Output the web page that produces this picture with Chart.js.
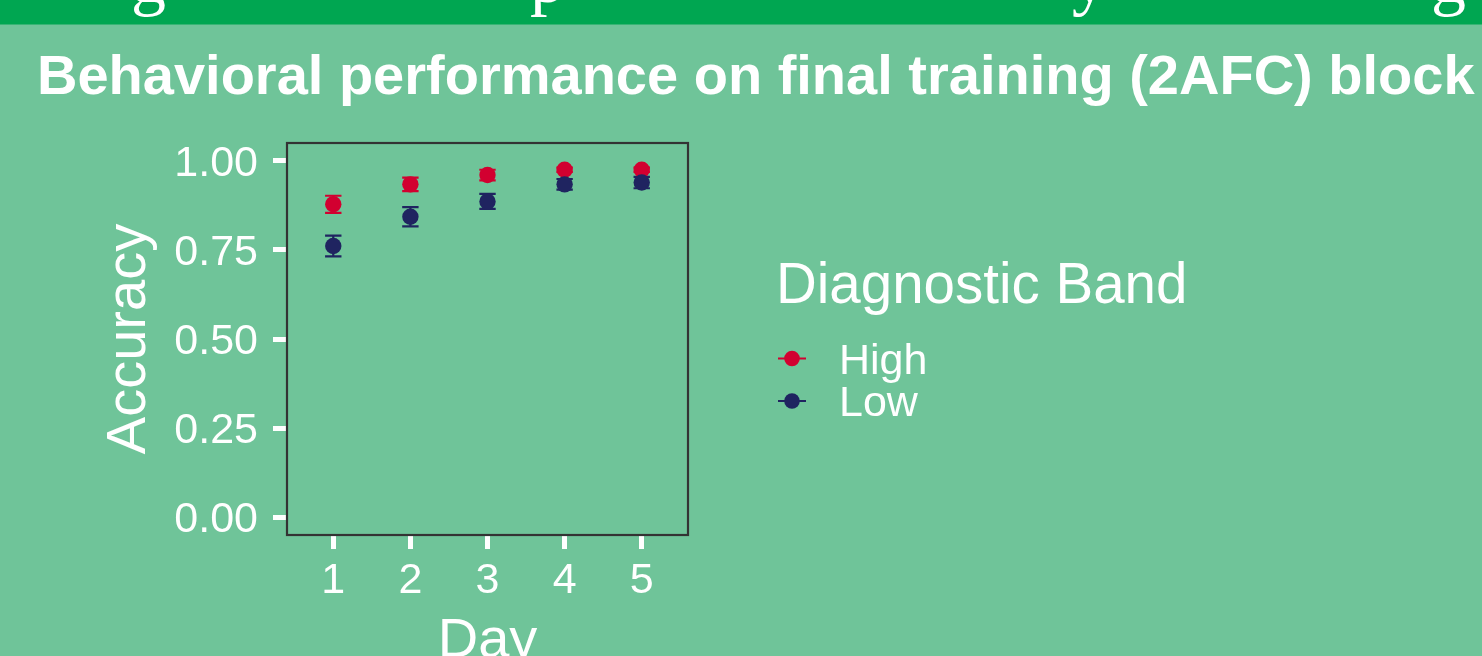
<!DOCTYPE html>
<html>
<head>
<meta charset="utf-8">
<title>Behavioral performance on final training (2AFC) block</title>
<script src="https://cdn.jsdelivr.net/npm/chart.js@4.4.1/dist/chart.umd.min.js"></script>
<style>
  html, body { margin: 0; padding: 0; background: #6FC499; overflow: hidden; }
  #wrap { position: relative; width: 1482px; height: 656px; overflow: hidden; }
  canvas { display: block; }
</style>
</head>
<body>
<div id="wrap"><canvas id="chart" width="1482" height="700"></canvas></div>
<script>
// Accuracy per training day, mean and standard error for each diagnostic band
const days = [1, 2, 3, 4, 5];
const dayLabels = ['1', '2', '3', '4', '5'];
const highMean = [0.878, 0.934, 0.960, 0.975, 0.975];
const highSE   = [0.024, 0.019, 0.015, 0.006, 0.006];
const lowMean  = [0.761, 0.843, 0.886, 0.934, 0.939];
const lowSE    = [0.029, 0.027, 0.021, 0.015, 0.016];
const yTickValues = [0, 0.25, 0.5, 0.75, 1];
const yTickLabels = ['0.00', '0.25', '0.50', '0.75', '1.00'];
const seriesNames = ['High', 'Low'];
const legendTitle = 'Diagnostic Band';
const chartTitle = 'Behavioral performance on final training (2AFC) block';
const bannerGlyphs = ['g', 'p', 'y', 'g'];

const RED = '#D20030';
const NAVY = '#1F2460';
const BG = '#6FC499';
const BANNER = '#00A651';
const SANS = "'Liberation Sans', Arial, Helvetica, sans-serif";
const SERIF = "'Liberation Serif', 'Times New Roman', serif";

Chart.defaults.font.family = SANS;
Chart.defaults.color = '#FFFFFF';

// Page background, the banner strip with its clipped lettering, and the title
const backdrop = {
  id: 'backdrop',
  beforeDraw(chart) {
    const ctx = chart.ctx;
    ctx.save();
    ctx.fillStyle = BG;
    ctx.fillRect(0, 0, chart.width, chart.height);
    ctx.fillStyle = BANNER;
    ctx.fillRect(0, 0, chart.width, 24.5);
    ctx.beginPath();
    ctx.rect(0, 0, chart.width, 24.5);
    ctx.clip();
    ctx.fillStyle = '#FFFFFF';
    ctx.font = '70px ' + SERIF;
    ctx.textBaseline = 'alphabetic';
    const gx = [131, 530, 1072, 1431];
    bannerGlyphs.forEach((g, i) => ctx.fillText(g, gx[i], 1.5));
    ctx.restore();

    ctx.save();
    ctx.fillStyle = '#FFFFFF';
    ctx.font = 'bold 56px ' + SANS;
    ctx.textBaseline = 'alphabetic';
    ctx.textAlign = 'left';
    ctx.fillText(chartTitle, 37, 94);
    ctx.restore();
  }
};

// Vertical error bars with caps, mean +/- SE, placed through the y scale
const errorBars = {
  id: 'errorBars',
  beforeDatasetsDraw(chart) {
    const ctx = chart.ctx;
    const ys = chart.scales.y;
    ctx.save();
    chart.data.datasets.forEach((ds, i) => {
      const meta = chart.getDatasetMeta(i);
      ctx.strokeStyle = ds.borderColor;
      ctx.lineWidth = 2.2;
      meta.data.forEach((pt, j) => {
        const v = ds.data[j].y;
        const e = ds.se[j];
        const y1 = ys.getPixelForValue(v + e);
        const y2 = ys.getPixelForValue(v - e);
        const half = 8.2;
        ctx.beginPath();
        ctx.moveTo(pt.x, y1); ctx.lineTo(pt.x, y2);
        ctx.moveTo(pt.x - half, y1); ctx.lineTo(pt.x + half, y1);
        ctx.moveTo(pt.x - half, y2); ctx.lineTo(pt.x + half, y2);
        ctx.stroke();
      });
    });
    ctx.restore();
  }
};

// Panel outline drawn over the plotted marks
const panelBorder = {
  id: 'panelBorder',
  afterDatasetsDraw(chart) {
    const {left, top, right, bottom} = chart.chartArea;
    const ctx = chart.ctx;
    ctx.save();
    ctx.strokeStyle = '#333333';
    ctx.lineWidth = 2.2;
    ctx.strokeRect(left, top, right - left, bottom - top);
    ctx.restore();
  }
};

// Legend with a point-range key for each band
const bandLegend = {
  id: 'bandLegend',
  afterDraw(chart) {
    const ctx = chart.ctx;
    ctx.save();
    ctx.fillStyle = '#FFFFFF';
    ctx.textAlign = 'left';
    ctx.textBaseline = 'alphabetic';
    ctx.font = '56.5px ' + SANS;
    ctx.fillText(legendTitle, 776, 303);
    const keyY = [358.5, 401];
    const textY = [374, 416];
    chart.data.datasets.forEach((ds, i) => {
      ctx.strokeStyle = ds.borderColor;
      ctx.lineWidth = 2;
      ctx.beginPath();
      ctx.moveTo(778, keyY[i]);
      ctx.lineTo(806, keyY[i]);
      ctx.stroke();
      ctx.fillStyle = ds.backgroundColor;
      ctx.beginPath();
      ctx.arc(792, keyY[i], 7.8, 0, Math.PI * 2);
      ctx.fill();
      ctx.fillStyle = '#FFFFFF';
      ctx.font = '43px ' + SANS;
      ctx.fillText(ds.label, 839, textY[i]);
    });
    ctx.restore();
  }
};

const toPoints = (means) => days.map((d, i) => ({x: d, y: means[i]}));

new Chart(document.getElementById('chart'), {
  type: 'scatter',
  data: {
    datasets: [
      {
        label: seriesNames[0],
        data: toPoints(highMean),
        se: highSE,
        backgroundColor: RED,
        borderColor: RED,
        pointRadius: 8.2,
        pointHoverRadius: 8.2,
        pointBorderWidth: 0,
        order: 2
      },
      {
        label: seriesNames[1],
        data: toPoints(lowMean),
        se: lowSE,
        backgroundColor: NAVY,
        borderColor: NAVY,
        pointRadius: 8.2,
        pointHoverRadius: 8.2,
        pointBorderWidth: 0,
        order: 1
      }
    ]
  },
  options: {
    responsive: false,
    animation: false,
    devicePixelRatio: 1,
    events: [],
    layout: { padding: { left: 0, top: 143, right: 794, bottom: 0 } },
    plugins: {
      legend: { display: false },
      tooltip: { enabled: false },
      title: { display: false }
    },
    scales: {
      x: {
        type: 'linear',
        position: 'bottom',
        min: 0.4,
        max: 5.6,
        afterFit(scale) { scale.height = 165; },
        afterBuildTicks(scale) { scale.ticks = days.map(v => ({value: v})); },
        ticks: {
          callback: (value, index) => dayLabels[index],
          color: '#FFFFFF',
          font: { size: 43 },
          padding: 6,
          maxRotation: 0,
          autoSkip: false
        },
        grid: {
          drawOnChartArea: false,
          drawTicks: true,
          tickLength: 14,
          tickWidth: 5,
          tickColor: '#FFFFFF'
        },
        border: { display: false },
        title: {
          display: true,
          text: 'Day',
          color: '#FFFFFF',
          font: { size: 56 },
          padding: { top: 0, bottom: 25 }
        }
      },
      y: {
        type: 'linear',
        position: 'left',
        min: -0.05,
        max: 1.05,
        afterFit(scale) { scale.width = 287; },
        afterBuildTicks(scale) { scale.ticks = yTickValues.map(v => ({value: v})); },
        ticks: {
          callback: (value, index) => yTickLabels[index],
          color: '#FFFFFF',
          font: { size: 43 },
          padding: 15,
          labelOffset: 3,
          autoSkip: false
        },
        grid: {
          drawOnChartArea: false,
          drawTicks: true,
          tickLength: 14,
          tickWidth: 5,
          tickColor: '#FFFFFF'
        },
        border: { display: false },
        title: {
          display: true,
          text: 'Accuracy',
          color: '#FFFFFF',
          font: { size: 56 },
          padding: { top: 96, bottom: 0 }
        }
      }
    }
  },
  plugins: [backdrop, errorBars, panelBorder, bandLegend]
});
</script>
</body>
</html>
